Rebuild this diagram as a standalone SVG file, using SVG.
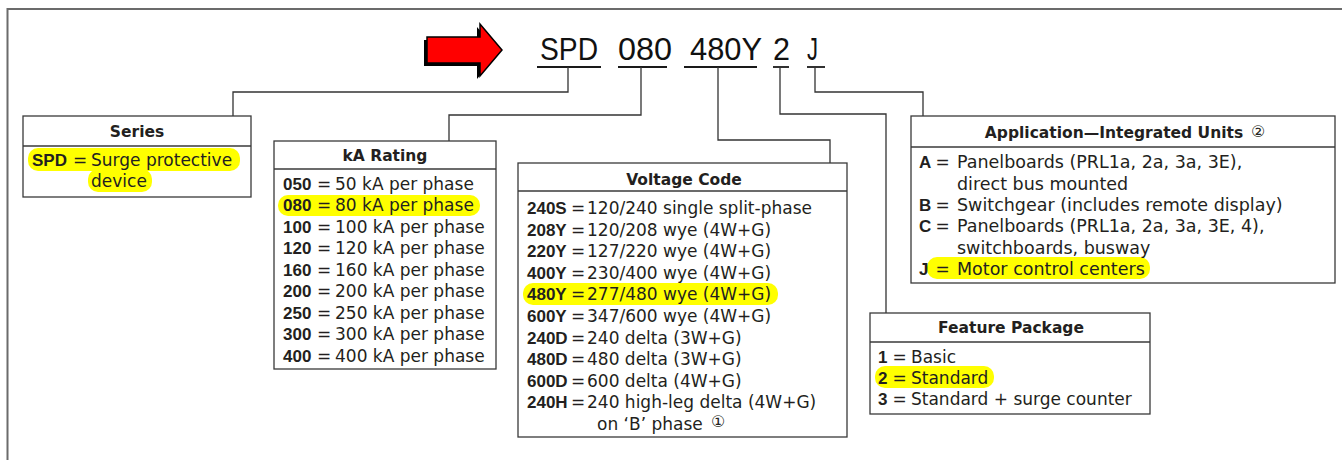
<svg xmlns="http://www.w3.org/2000/svg" width="1342" height="460" viewBox="0 0 1342 460">
<style>
.frame{fill:none;stroke:#6b6b6b;stroke-width:2}
.box{fill:#fff;stroke:#3a3a3a;stroke-width:1.3}
.div{stroke:#3a3a3a;stroke-width:1.3}
.con{fill:none;stroke:#333;stroke-width:1.3}
.ul{stroke:#1a1a1a;stroke-width:1.8}
.hl{fill:#ffff00}
text{font-family:"DejaVu Sans",sans-serif;fill:#231f20}
.hd{font-weight:bold;font-size:15.5px;text-anchor:middle}
.cd{font-family:"Liberation Sans",Arial,sans-serif;font-weight:bold;font-size:17px}
.tx{font-size:17px}
.ap{font-size:17.5px}
.eq{font-size:17px;text-anchor:middle}
.code{font-family:"Liberation Sans",Arial,sans-serif;font-size:32px;fill:#111}
.circ{font-size:16px}
</style>
<path class="frame" d="M7.5,460 V9 H1342"/>
<g id="arrow">
<polygon points="424,40 477,40 477,27 499,53 477,79 477,66 424,66" fill="#000"/>
<polygon points="427,37 480,37 480,24 502,50 480,76 480,63 427,63" fill="#ff0000" stroke="#000" stroke-width="1.5" stroke-linejoin="miter"/>
</g>
<g id="code">
<text class="code" x="540" y="60" textLength="58" lengthAdjust="spacingAndGlyphs">SPD</text>
<text class="code" x="618" y="60" textLength="54" lengthAdjust="spacingAndGlyphs">080</text>
<text class="code" x="690" y="60" textLength="72" lengthAdjust="spacingAndGlyphs">480Y</text>
<text class="code" x="773" y="60" textLength="17" lengthAdjust="spacingAndGlyphs">2</text>
<text class="code" x="807" y="60" textLength="11" lengthAdjust="spacingAndGlyphs">J</text>
<line class="ul" x1="537" y1="67" x2="601" y2="67"/>
<line class="ul" x1="618" y1="67" x2="667" y2="67"/>
<line class="ul" x1="684" y1="67" x2="757" y2="67"/>
<line class="ul" x1="773" y1="67" x2="789" y2="67"/>
<line class="ul" x1="807" y1="67" x2="825" y2="67"/>
</g>
<g id="connectors">
<path class="con" d="M568,67 V92 H233 V116"/>
<path class="con" d="M641,67 V115 H449 V141"/>
<path class="con" d="M718,67 V140 H830 V163"/>
<path class="con" d="M780,67 V114 H886 V313"/>
<path class="con" d="M815,67 V92 H923 V116"/>
</g>
<g id="series">
<rect class="box" x="23" y="116" width="228" height="81"/>
<line class="div" x1="23" y1="146" x2="251" y2="146"/>
<rect class="hl" x="28" y="148" width="212" height="23" rx="10"/>
<rect class="hl" x="88" y="169" width="64" height="23" rx="10"/>
<text class="hd" x="137" y="137">Series</text>
<text class="cd" x="32" y="166">SPD</text><text class="eq" x="80" y="166">=</text><text class="tx" x="91" y="166">Surge protective</text>
<text class="tx" x="91" y="187">device</text>
</g>
<g id="ka-rating">
<rect class="box" x="274" y="141" width="222" height="228"/>
<line class="div" x1="274" y1="169" x2="496" y2="169"/>
<rect class="hl" x="278" y="195" width="202" height="21" rx="10"/>
<text class="hd" x="385" y="161">kA Rating</text>
<text class="cd" x="283" y="189.5">050</text><text class="eq" x="324" y="189.5">=</text><text class="tx" x="335" y="189.5">50 kA per phase</text>
<text class="cd" x="283" y="211">080</text><text class="eq" x="324" y="211">=</text><text class="tx" x="335" y="211">80 kA per phase</text>
<text class="cd" x="283" y="232.5">100</text><text class="eq" x="324" y="232.5">=</text><text class="tx" x="335" y="232.5">100 kA per phase</text>
<text class="cd" x="283" y="254">120</text><text class="eq" x="324" y="254">=</text><text class="tx" x="335" y="254">120 kA per phase</text>
<text class="cd" x="283" y="275.5">160</text><text class="eq" x="324" y="275.5">=</text><text class="tx" x="335" y="275.5">160 kA per phase</text>
<text class="cd" x="283" y="297">200</text><text class="eq" x="324" y="297">=</text><text class="tx" x="335" y="297">200 kA per phase</text>
<text class="cd" x="283" y="318.5">250</text><text class="eq" x="324" y="318.5">=</text><text class="tx" x="335" y="318.5">250 kA per phase</text>
<text class="cd" x="283" y="340">300</text><text class="eq" x="324" y="340">=</text><text class="tx" x="335" y="340">300 kA per phase</text>
<text class="cd" x="283" y="361.5">400</text><text class="eq" x="324" y="361.5">=</text><text class="tx" x="335" y="361.5">400 kA per phase</text>
</g>
<g id="voltage-code">
<rect class="box" x="518" y="163" width="329" height="274"/>
<line class="div" x1="518" y1="191" x2="847" y2="191"/>
<rect class="hl" x="523" y="283" width="255" height="22" rx="10"/>
<text class="hd" x="684" y="185">Voltage Code</text>
<text class="cd" x="527" y="214">240S</text><text class="eq" x="578" y="214">=</text><text class="tx" x="587" y="214">120/240 single split-phase</text>
<text class="cd" x="527" y="235.6">208Y</text><text class="eq" x="578" y="235.6">=</text><text class="tx" x="587" y="235.6">120/208 wye (4W+G)</text>
<text class="cd" x="527" y="257.2">220Y</text><text class="eq" x="578" y="257.2">=</text><text class="tx" x="587" y="257.2">127/220 wye (4W+G)</text>
<text class="cd" x="527" y="278.8">400Y</text><text class="eq" x="578" y="278.8">=</text><text class="tx" x="587" y="278.8">230/400 wye (4W+G)</text>
<text class="cd" x="527" y="300.4">480Y</text><text class="eq" x="578" y="300.4">=</text><text class="tx" x="587" y="300.4">277/480 wye (4W+G)</text>
<text class="cd" x="527" y="322">600Y</text><text class="eq" x="578" y="322">=</text><text class="tx" x="587" y="322">347/600 wye (4W+G)</text>
<text class="cd" x="527" y="343.6">240D</text><text class="eq" x="578" y="343.6">=</text><text class="tx" x="587" y="343.6">240 delta (3W+G)</text>
<text class="cd" x="527" y="365.2">480D</text><text class="eq" x="578" y="365.2">=</text><text class="tx" x="587" y="365.2">480 delta (3W+G)</text>
<text class="cd" x="527" y="386.8">600D</text><text class="eq" x="578" y="386.8">=</text><text class="tx" x="587" y="386.8">600 delta (4W+G)</text>
<text class="cd" x="527" y="408.4">240H</text><text class="eq" x="578" y="408.4">=</text><text class="tx" x="587" y="408.4">240 high-leg delta (4W+G)</text>
<text class="tx" x="597" y="430">on ‘B’ phase</text><text class="circ" x="711" y="427">①</text>
</g>
<g id="application">
<rect class="box" x="911" y="116" width="424" height="167"/>
<line class="div" x1="911" y1="147" x2="1335" y2="147"/>
<rect class="hl" x="927" y="257" width="223" height="22" rx="10"/>
<text class="hd" x="1114" y="138">Application—Integrated Units</text><text class="circ" x="1251" y="137">②</text>
<text class="cd" x="919" y="168">A</text><text class="eq" x="942.5" y="168">=</text><text class="ap" x="957" y="168">Panelboards (PRL1a, 2a, 3a, 3E),</text>
<text class="ap" x="957" y="189.5">direct bus mounted</text>
<text class="cd" x="919" y="211">B</text><text class="eq" x="942.5" y="211">=</text><text class="ap" x="957" y="211">Switchgear (includes remote display)</text>
<text class="cd" x="919" y="232">C</text><text class="eq" x="942.5" y="232">=</text><text class="ap" x="957" y="232">Panelboards (PRL1a, 2a, 3a, 3E, 4),</text>
<text class="ap" x="957" y="253.5">switchboards, busway</text>
<text class="cd" x="919" y="275">J</text><text class="eq" x="942.5" y="275">=</text><text class="ap" x="957" y="275">Motor control centers</text>
</g>
<g id="feature-package">
<rect class="box" x="870" y="313" width="280" height="101"/>
<line class="div" x1="870" y1="342" x2="1150" y2="342"/>
<rect class="hl" x="875" y="366" width="119" height="22" rx="10"/>
<text class="hd" x="1011" y="333">Feature Package</text>
<text class="cd" x="878" y="363">1</text><text class="eq" x="899.5" y="363">=</text><text class="tx" x="911" y="363">Basic</text>
<text class="cd" x="878" y="384">2</text><text class="eq" x="899.5" y="384">=</text><text class="tx" x="911" y="384">Standard</text>
<text class="cd" x="878" y="405">3</text><text class="eq" x="899.5" y="405">=</text><text class="tx" x="911" y="405">Standard + surge counter</text>
</g>
</svg>
